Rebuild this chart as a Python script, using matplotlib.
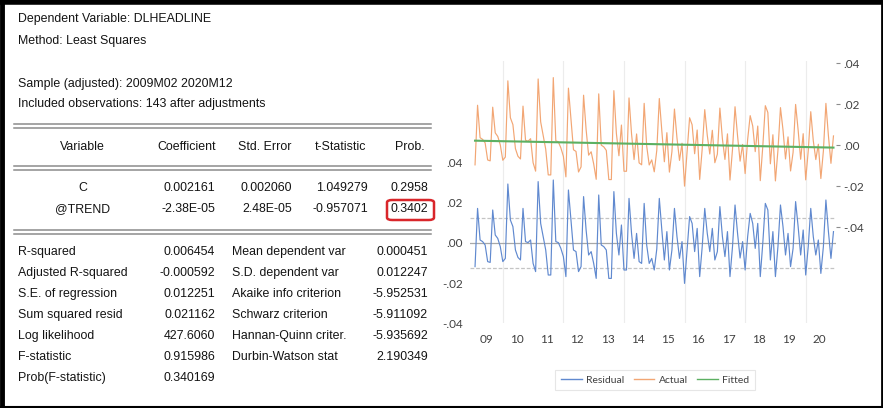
import matplotlib
matplotlib.use("Agg")
import matplotlib.pyplot as plt
from matplotlib import font_manager
from matplotlib.lines import Line2D
from matplotlib.patches import FancyBboxPatch
import numpy as np

W, H = 883, 408

# regression output
dep_var = "DLHEADLINE"
sample = "2009M02 2020M12"
n_obs = 143
coef_header = ["Variable", "Coefficient", "Std. Error", "t-Statistic", "Prob."]
coef_rows = [
    ["C", "0.002161", "0.002060", "1.049279", "0.2958"],
    ["@TREND", "-2.38E-05", "2.48E-05", "-0.957071", "0.3402"],
]
c_hat = 0.002161
trend_hat = -2.38e-05
se_reg = 0.012251
stats_left = [
    ("R-squared", "0.006454"),
    ("Adjusted R-squared", "-0.000592"),
    ("S.E. of regression", "0.012251"),
    ("Sum squared resid", "0.021162"),
    ("Log likelihood", "427.6060"),
    ("F-statistic", "0.915986"),
    ("Prob(F-statistic)", "0.340169"),
]
stats_right = [
    ("Mean dependent var", "0.000451"),
    ("S.D. dependent var", "0.012247"),
    ("Akaike info criterion", "-5.952531"),
    ("Schwarz criterion", "-5.911092"),
    ("Hannan-Quinn criter.", "-5.935692"),
    ("Durbin-Watson stat", "2.190349"),
]

# monthly residuals, 2009M02 .. 2020M12
residual = [
    -0.0118, 0.0173, 0.0015, 0.0007, -0.0010, -0.0093, -0.0097, 0.0165, 0.0040, 0.0023, -0.0018,          # 2009
    -0.0093, -0.0077, 0.0295, 0.0115, 0.0082, -0.0035, -0.0072, -0.0085, 0.0173, 0.0007, 0.0002, 0.0015,  # 2010
    -0.0102, -0.0143, 0.0307, 0.0098, 0.0032, -0.0035, -0.0160, -0.0160, 0.0315, 0.0007, 0.0002, -0.0027, # 2011
    -0.0068, -0.0168, 0.0265, 0.0115, -0.0035, -0.0043, -0.0143, -0.0118, 0.0232, 0.0065, -0.0060, -0.0043, # 2012
    -0.0102, -0.0177, 0.0240, -0.0010, -0.0018, -0.0035, -0.0177, -0.0177, 0.0257, 0.0048, -0.0060, 0.0090, # 2013
    -0.0135, -0.0135, 0.0223, 0.0048, -0.0077, 0.0048, -0.0093, -0.0102, 0.0198, -0.0010, -0.0102, -0.0077, # 2014
    -0.0135, -0.0030, 0.0223, 0.0065, -0.0085, 0.0057, -0.0135, -0.0035, 0.0173, 0.0032, -0.0077, 0.0007, # 2015
    -0.0202, -0.0035, 0.0132, 0.0098, -0.0043, 0.0073, -0.0168, -0.0018, 0.0173, 0.0048, -0.0043, 0.0073, # 2016
    -0.0085, -0.0043, 0.0182, 0.0032, -0.0068, 0.0057, -0.0168, -0.0018, 0.0190, 0.0048, -0.0075, 0.0007, # 2017
    -0.0135, 0.0032, 0.0148, 0.0098, -0.0027, 0.0098, -0.0168, 0.0000, 0.0198, 0.0165, -0.0085, 0.0057,  # 2018
    -0.0168, -0.0018, 0.0190, 0.0082, -0.0060, 0.0048, -0.0118, -0.0027, 0.0207, 0.0082, -0.0060, 0.0065, # 2019
    -0.0160, -0.0018, 0.0173, 0.0032, -0.0060, 0.0015, -0.0152, -0.0018, 0.0215, 0.0057, -0.0077, 0.0057, # 2020
]
year_labels = ["09", "10", "11", "12", "13", "14", "15", "16", "17", "18", "19", "20"]

resid = np.array(residual)
trend = np.arange(1, len(resid) + 1)
fitted = c_hat + trend_hat * trend
actual = fitted + resid
t = 2009 + trend / 12.0  # 2009M02 -> 2009 + 1/12


def has_font(name):
    try:
        font_manager.findfont(name, fallback_to_default=False)
        return True
    except Exception:
        return False


table_font = "Liberation Sans Narrow" if has_font("Liberation Sans Narrow") else "Liberation Sans"
table_size = 10.0 if table_font == "Liberation Sans Narrow" else 8.9
chart_font = "Lato"

fig = plt.figure(figsize=(W / 100, H / 100), dpi=100)
fig.patch.set_facecolor("white")


def fx(x):
    return x / W


def fy(y):
    return 1 - y / H


def txt(x, y, s, ha="left"):
    fig.text(fx(x), fy(y), s, ha=ha, va="center", fontsize=table_size,
             family=table_font, color="#141414")


def hline(y, x0=14, x1=431, color="#8c8c8c", lw=1.1):
    fig.add_artist(Line2D([fx(x0), fx(x1)], [fy(y), fy(y)], color=color, lw=lw))


# header block
txt(18, 19, f"Dependent Variable: {dep_var}")
txt(18, 41, "Method: Least Squares")
txt(18, 84, f"Sample (adjusted): {sample}")
txt(18, 104, f"Included observations: {n_obs} after adjustments")

for y in (123.5, 127.5, 166, 170, 229.5, 233.5):
    hline(y)

header_x = [82, 187, 265, 340, 410]
for x, s in zip(header_x, coef_header):
    txt(x, 147, s, ha="center")

value_right = [215, 292, 368, 428]
for y, row in zip([188, 209], coef_rows):
    txt(83, y, row[0], ha="center")
    for x, s in zip(value_right, row[1:]):
        txt(x, y, s, ha="right")

# highlight on the trend p-value
box = FancyBboxPatch((fx(387), fy(220)), fx(47), 20 / H,
                     boxstyle="round,pad=0,rounding_size=0.006",
                     transform=fig.transFigure, fill=False,
                     edgecolor="#d9262b", lw=1.8)
fig.add_artist(box)

row_y = [252, 273, 294, 315, 336, 357, 378]
for y, (lab, val) in zip(row_y, stats_left):
    txt(18, y, lab)
    txt(215, y, val, ha="right")
for y, (lab, val) in zip(row_y, stats_right):
    txt(232, y, lab)
    txt(428, y, val, ha="right")

# frame around the output
for (xs, ys, lw) in [([0, W], [2, 2], 4.0), ([2, 2], [0, H], 3.5),
                     ([W - 1.5, W - 1.5], [0, H], 2.0), ([0, W], [H - 1, H - 1], 1.5)]:
    fig.add_artist(Line2D([fx(x) for x in xs], [fy(y) for y in ys],
                          color="black", lw=lw, solid_capstyle="butt"))

# residual / actual / fitted graph
ax = fig.add_axes([fx(470), fy(323), fx(836) - fx(470), (323 - 61) / H])
ax2 = ax.twinx()

ax.set_xlim(2008.917, 2021.0)
ax.set_ylim(-0.04, 0.091)
ax2.set_ylim(-0.0868, 0.041)

for yy, col, ls in [(0, "#a8a8a8", "-"), (se_reg, "#c4c4c4", (0, (3, 1.5))),
                    (-se_reg, "#c4c4c4", (0, (3, 1.5)))]:
    ax.axhline(yy, color=col, lw=0.9, ls=ls, zorder=1)

for yr in range(2010, 2021, 2):
    ax.axvline(yr, color="#ececec", lw=0.8, zorder=0)

ax.plot(t, resid, color="#6089cf", lw=0.85, zorder=3)
ax2.plot(t, actual, color="#f2a674", lw=0.85, zorder=3)
ax2.plot(t, fitted, color="#5cb062", lw=1.5, zorder=4)

tick_color = "#404040"
ax.set_yticks([-0.04, -0.02, 0.0, 0.02, 0.04])
ax.set_yticklabels(["-.04", "-.02", ".00", ".02", ".04"])
ax2.set_yticks([-0.04, -0.02, 0.0, 0.02, 0.04])
ax2.set_yticklabels(["-.04", "-.02", ".00", ".02", ".04"])
ax.set_xticks([2009 + k + 5.5 / 12 for k in range(len(year_labels))])
ax.set_xticklabels(year_labels)

ax.tick_params(axis="y", length=0, pad=5, labelsize=8.5, labelcolor=tick_color)
ax.tick_params(axis="x", length=0, pad=8, labelsize=8.5, labelcolor=tick_color)
ax2.tick_params(axis="y", length=3, width=0.8, color="#8c8c8c", pad=2,
                labelsize=8.5, labelcolor=tick_color)
for a in (ax, ax2):
    for sp in a.spines.values():
        sp.set_visible(False)
    for lab in a.get_xticklabels() + a.get_yticklabels():
        lab.set_family(chart_font)

handles = [Line2D([], [], color="#6089cf", lw=1.0),
           Line2D([], [], color="#f2a674", lw=1.0),
           Line2D([], [], color="#5cb062", lw=1.0)]
leg = fig.legend(handles, ["Residual", "Actual", "Fitted"], loc="center",
                 bbox_to_anchor=(fx(655), fy(380)), ncol=3, frameon=True,
                 fancybox=False, edgecolor="#e0e0e0",
                 handlelength=2.0, handletextpad=0.4, columnspacing=0.9,
                 borderpad=0.55, prop={"family": chart_font, "size": 7.5})
for tx in leg.get_texts():
    tx.set_color(tick_color)
leg.get_frame().set_linewidth(0.8)

fig.savefig("out.png", dpi=100, facecolor="white")
